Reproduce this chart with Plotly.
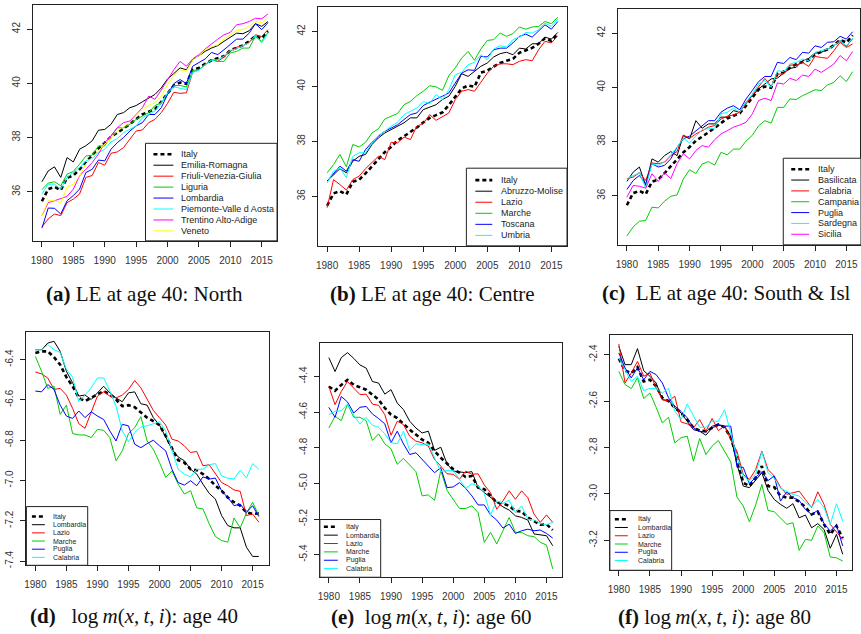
import plotly.graph_objects as go

# ---------------- data ----------------
years = list(range(1980, 2017))
x_tick_vals = [1980, 1985, 1990, 1995, 2000, 2005, 2010, 2015]
x_tick_text = ["1980", "1985", "1990", "1995", "2000", "2005", "2010", "2015"]

le_tick_vals = [36, 38, 40, 42]
le_tick_text = ["36", "38", "40", "42"]
m40_tick_vals = [-7.4, -7.2, -7.0, -6.8, -6.6, -6.4]
m40_tick_text = ["-7.4", "-7.2", "-7.0", "-6.8", "-6.6", "-6.4"]
m60_tick_vals = [-5.4, -5.2, -5.0, -4.8, -4.6, -4.4]
m60_tick_text = ["-5.4", "-5.2", "-5.0", "-4.8", "-4.6", "-4.4"]
m80_tick_vals = [-3.2, -3.0, -2.8, -2.6, -2.4]
m80_tick_text = ["-3.2", "-3.0", "-2.8", "-2.6", "-2.4"]

# Life expectancy at age 40
le40_italy = [35.65, 36.10, 36.18, 36.06, 36.52, 36.60, 36.83, 37.08, 37.32, 37.60, 37.80, 38.03, 38.18, 38.33, 38.50, 38.68, 38.85, 38.95, 39.05, 39.32, 39.60, 39.92, 40.03, 39.98, 40.50, 40.57, 40.72, 40.85, 40.93, 41.00, 41.22, 41.32, 41.40, 41.55, 41.75, 41.65, 41.92]
# North
le40_emilia_romagna = [36.37, 36.77, 36.92, 36.53, 37.26, 37.10, 37.57, 37.70, 37.88, 38.27, 38.30, 38.49, 38.85, 38.92, 39.10, 39.18, 39.32, 39.47, 39.59, 39.83, 40.16, 40.36, 40.57, 40.50, 40.87, 41.02, 41.18, 41.30, 41.39, 41.55, 41.71, 41.85, 41.83, 41.94, 42.20, 42.10, 42.28]
le40_friuli = [34.70, 35.00, 35.18, 35.12, 35.60, 35.73, 35.92, 36.53, 36.60, 37.08, 36.98, 37.42, 37.47, 37.63, 37.94, 38.24, 38.28, 38.55, 38.67, 38.92, 39.26, 39.67, 39.63, 39.65, 40.41, 40.50, 40.69, 40.87, 40.81, 40.97, 41.18, 41.33, 41.39, 41.51, 41.79, 41.73, 41.98]
le40_liguria = [36.08, 36.32, 36.37, 36.22, 36.65, 36.75, 37.02, 37.32, 37.35, 37.69, 37.69, 38.06, 38.36, 38.36, 38.49, 38.67, 38.79, 38.92, 39.18, 39.28, 39.59, 39.92, 39.92, 39.87, 40.48, 40.50, 40.69, 40.87, 40.81, 40.81, 41.12, 41.18, 41.30, 41.30, 41.73, 41.55, 41.88]
le40_lombardia = [34.66, 35.40, 35.39, 35.18, 35.67, 35.86, 36.10, 36.71, 36.83, 37.17, 37.14, 37.57, 37.81, 38.00, 38.24, 38.43, 38.55, 38.85, 38.85, 39.10, 39.59, 39.99, 40.14, 39.99, 40.63, 40.75, 40.90, 41.14, 41.06, 41.24, 41.42, 41.63, 41.63, 41.85, 42.20, 41.98, 42.24]
le40_piemonte = [35.92, 36.28, 36.28, 36.10, 36.53, 36.71, 36.90, 37.14, 37.23, 37.45, 37.57, 37.84, 37.96, 38.18, 38.30, 38.43, 38.73, 38.85, 38.98, 39.28, 39.65, 39.87, 39.83, 39.77, 40.41, 40.48, 40.69, 40.85, 40.87, 41.00, 41.22, 41.27, 41.39, 41.49, 41.76, 41.49, 41.85]
le40_trentino = [35.12, 35.60, 35.67, 35.76, 35.83, 36.10, 36.59, 36.83, 37.08, 37.39, 37.81, 38.06, 38.36, 38.55, 38.61, 38.85, 39.10, 39.53, 39.41, 39.75, 40.14, 40.50, 40.81, 40.63, 40.90, 41.06, 41.27, 41.46, 41.63, 41.79, 41.88, 42.16, 42.20, 42.28, 42.40, 42.38, 42.56]
le40_veneto = [35.12, 35.67, 35.67, 35.59, 36.16, 36.28, 36.59, 37.02, 37.26, 37.51, 37.75, 38.03, 38.24, 38.40, 38.55, 38.82, 39.04, 39.18, 39.28, 39.53, 39.96, 40.29, 40.50, 40.45, 40.85, 41.02, 41.24, 41.36, 41.42, 41.63, 41.79, 41.95, 41.98, 42.10, 42.28, 42.24, 42.40]
# Centre
le40_abruzzo_molise = [36.55, 36.79, 37.00, 36.85, 37.27, 37.45, 37.52, 37.88, 38.12, 38.30, 38.42, 38.55, 38.67, 38.85, 38.85, 39.15, 39.25, 39.33, 39.52, 39.64, 40.00, 40.46, 40.36, 40.55, 40.73, 40.85, 41.07, 41.19, 41.24, 41.15, 41.39, 41.36, 41.55, 41.55, 41.79, 41.72, 41.96]
le40_lazio = [35.58, 36.60, 36.42, 36.22, 36.60, 36.73, 37.00, 37.24, 37.45, 37.33, 37.96, 37.94, 38.15, 38.06, 38.55, 38.64, 38.97, 38.76, 38.88, 39.03, 39.52, 39.82, 39.88, 39.82, 40.15, 40.48, 40.73, 40.82, 40.82, 40.79, 40.91, 40.97, 40.93, 41.33, 41.64, 41.58, 41.84]
le40_marche = [36.85, 37.15, 37.52, 37.07, 37.88, 37.79, 37.96, 38.30, 38.45, 38.81, 38.91, 39.01, 39.33, 39.45, 39.66, 39.82, 40.02, 39.98, 39.85, 40.39, 40.67, 41.03, 41.27, 40.95, 41.36, 41.67, 41.70, 41.94, 41.82, 41.92, 42.16, 42.08, 42.16, 42.18, 42.36, 42.28, 42.52]
le40_toscana = [36.55, 36.82, 37.09, 36.91, 37.33, 37.27, 37.70, 37.96, 38.18, 38.36, 38.48, 38.60, 38.79, 38.97, 39.03, 39.30, 39.42, 39.52, 39.64, 39.76, 40.12, 40.48, 40.60, 40.58, 41.09, 41.07, 41.33, 41.39, 41.39, 41.58, 41.82, 41.90, 41.79, 42.00, 42.24, 42.08, 42.36]
le40_umbria = [36.48, 36.91, 37.03, 36.67, 37.45, 37.58, 37.58, 37.94, 38.21, 38.36, 38.55, 38.69, 38.97, 39.09, 39.21, 39.45, 39.37, 39.70, 39.52, 39.88, 40.42, 40.51, 40.79, 40.87, 41.15, 40.97, 41.36, 41.48, 41.43, 41.70, 41.79, 41.96, 41.94, 42.06, 42.30, 42.18, 42.45]
# South & Islands
le40_basilicata = [36.53, 36.87, 37.06, 36.38, 37.36, 37.24, 37.48, 37.63, 37.48, 38.22, 38.10, 38.77, 38.49, 38.65, 38.65, 38.90, 38.90, 39.14, 39.08, 39.45, 39.69, 39.94, 40.12, 40.31, 40.34, 40.53, 40.70, 40.74, 40.98, 41.07, 41.26, 41.29, 41.41, 41.53, 41.72, 41.51, 41.80]
le40_calabria = [36.63, 36.69, 36.85, 36.56, 37.21, 37.18, 37.24, 37.48, 37.63, 38.24, 38.12, 38.28, 38.40, 38.53, 38.59, 38.83, 38.93, 38.98, 39.08, 39.39, 39.69, 40.00, 40.33, 40.04, 40.49, 40.49, 40.82, 40.82, 40.92, 40.77, 41.14, 41.10, 41.07, 41.35, 41.66, 41.47, 41.60]
le40_campania = [34.52, 34.85, 35.06, 35.09, 35.58, 35.55, 35.80, 35.98, 36.03, 36.62, 36.96, 36.82, 37.17, 37.26, 37.13, 37.60, 37.51, 37.72, 37.72, 38.02, 38.23, 38.58, 38.77, 38.68, 39.26, 39.26, 39.57, 39.55, 39.69, 39.79, 39.91, 39.88, 40.09, 40.18, 40.43, 40.21, 40.58]
le40_puglia = [36.23, 36.56, 36.75, 36.44, 37.18, 37.06, 37.12, 37.36, 37.79, 38.10, 38.20, 38.40, 38.59, 38.77, 38.77, 39.08, 39.23, 39.32, 39.17, 39.57, 39.88, 40.21, 40.40, 40.40, 40.92, 40.88, 41.10, 41.02, 41.29, 41.26, 41.53, 41.47, 41.66, 41.68, 41.88, 41.78, 42.05]
le40_sardegna = [36.63, 36.75, 36.85, 36.28, 37.18, 37.12, 37.26, 37.51, 37.79, 38.12, 37.95, 38.20, 38.44, 38.47, 38.49, 39.02, 39.08, 39.23, 39.08, 39.45, 39.75, 40.12, 40.25, 40.00, 40.61, 40.58, 40.86, 40.92, 41.04, 40.98, 41.29, 41.35, 41.41, 41.53, 41.72, 41.53, 41.80]
le40_sicilia = [35.95, 36.38, 36.35, 36.28, 36.81, 36.53, 36.85, 36.63, 37.18, 37.55, 37.36, 37.67, 37.85, 37.79, 38.07, 38.28, 38.40, 38.53, 38.61, 38.71, 39.02, 39.51, 39.60, 39.51, 40.16, 40.12, 40.33, 40.25, 40.45, 40.40, 40.67, 40.55, 40.70, 40.86, 41.17, 40.98, 41.32]

# log m(x,t,i), age 40
m40_italy = [-6.367, -6.359, -6.359, -6.388, -6.425, -6.487, -6.532, -6.590, -6.606, -6.590, -6.576, -6.556, -6.573, -6.598, -6.631, -6.626, -6.636, -6.664, -6.688, -6.705, -6.725, -6.779, -6.837, -6.899, -6.911, -6.944, -6.949, -6.968, -6.993, -7.026, -7.051, -7.084, -7.108, -7.125, -7.158, -7.166, -7.163]
m40_lombardia = [-6.351, -6.351, -6.318, -6.309, -6.359, -6.458, -6.515, -6.581, -6.576, -6.598, -6.565, -6.532, -6.565, -6.590, -6.609, -6.565, -6.560, -6.619, -6.626, -6.688, -6.725, -6.787, -6.845, -6.883, -6.902, -6.944, -6.968, -7.018, -7.064, -7.092, -7.174, -7.224, -7.235, -7.235, -7.331, -7.377, -7.377]
m40_lazio = [-6.461, -6.471, -6.491, -6.548, -6.543, -6.576, -6.642, -6.718, -6.741, -6.659, -6.581, -6.560, -6.581, -6.590, -6.576, -6.548, -6.504, -6.540, -6.598, -6.652, -6.688, -6.725, -6.795, -6.804, -6.828, -6.861, -6.856, -6.927, -6.922, -6.965, -7.010, -7.026, -7.047, -7.054, -7.174, -7.166, -7.207]
m40_marche = [-6.384, -6.458, -6.543, -6.532, -6.672, -6.626, -6.767, -6.774, -6.774, -6.787, -6.746, -6.751, -6.787, -6.902, -6.853, -6.767, -6.738, -6.683, -6.804, -6.845, -6.911, -6.985, -6.952, -7.018, -7.067, -7.051, -7.136, -7.141, -7.215, -7.278, -7.298, -7.306, -7.186, -7.235, -7.163, -7.108, -7.174]
m40_puglia = [-6.556, -6.560, -6.524, -6.548, -6.626, -6.680, -6.692, -6.655, -6.688, -6.659, -6.680, -6.697, -6.754, -6.804, -6.721, -6.729, -6.820, -6.837, -6.817, -6.800, -6.828, -6.853, -6.944, -7.010, -7.023, -7.001, -7.026, -6.982, -6.993, -6.988, -7.051, -7.084, -7.125, -7.117, -7.158, -7.125, -7.179]
m40_calabria = [-6.351, -6.351, -6.326, -6.351, -6.364, -6.449, -6.487, -6.609, -6.576, -6.540, -6.491, -6.491, -6.556, -6.631, -6.754, -6.807, -6.762, -6.734, -6.729, -6.718, -6.708, -6.754, -6.845, -6.944, -6.968, -6.982, -6.944, -6.944, -6.922, -6.916, -6.977, -6.988, -6.993, -6.949, -6.988, -6.916, -6.944]

# log m(x,t,i), age 60
m60_italy = [-4.456, -4.480, -4.447, -4.419, -4.447, -4.461, -4.474, -4.502, -4.530, -4.577, -4.614, -4.633, -4.666, -4.698, -4.726, -4.754, -4.772, -4.819, -4.856, -4.890, -4.921, -4.940, -4.964, -4.959, -5.024, -5.033, -5.070, -5.108, -5.113, -5.126, -5.154, -5.158, -5.191, -5.210, -5.232, -5.229, -5.262]
m60_lombardia = [-4.294, -4.372, -4.294, -4.266, -4.298, -4.335, -4.353, -4.428, -4.437, -4.499, -4.474, -4.549, -4.586, -4.651, -4.689, -4.717, -4.707, -4.815, -4.797, -4.890, -4.931, -4.934, -4.940, -4.934, -5.024, -5.052, -5.080, -5.108, -5.132, -5.150, -5.182, -5.191, -5.206, -5.284, -5.288, -5.294, -5.350]
m60_lazio = [-4.456, -4.558, -4.484, -4.428, -4.465, -4.502, -4.499, -4.555, -4.562, -4.614, -4.730, -4.651, -4.670, -4.735, -4.763, -4.772, -4.791, -4.866, -4.903, -4.946, -4.949, -4.977, -4.931, -4.949, -4.946, -5.009, -5.052, -5.145, -5.098, -5.042, -5.089, -5.042, -5.080, -5.173, -5.219, -5.177, -5.219]
m60_marche = [-4.689, -4.623, -4.648, -4.555, -4.629, -4.629, -4.648, -4.759, -4.722, -4.778, -4.806, -4.893, -4.860, -4.897, -4.934, -5.070, -5.065, -5.095, -4.927, -5.039, -5.089, -5.141, -5.141, -5.126, -5.164, -5.331, -5.275, -5.340, -5.266, -5.191, -5.275, -5.275, -5.294, -5.299, -5.331, -5.346, -5.480]
m60_puglia = [-4.573, -4.629, -4.512, -4.543, -4.605, -4.573, -4.568, -4.610, -4.636, -4.666, -4.772, -4.707, -4.778, -4.838, -4.828, -4.866, -4.908, -4.940, -4.912, -5.024, -5.020, -4.996, -5.028, -5.070, -5.121, -5.121, -5.177, -5.206, -5.251, -5.229, -5.281, -5.266, -5.257, -5.266, -5.262, -5.281, -5.307]
m60_calabria = [-4.614, -4.596, -4.592, -4.555, -4.618, -4.666, -4.629, -4.674, -4.685, -4.722, -4.772, -4.778, -4.707, -4.815, -4.778, -4.782, -4.778, -4.853, -4.934, -4.927, -4.927, -4.977, -5.028, -5.002, -5.015, -5.057, -5.177, -5.098, -5.113, -5.095, -5.164, -5.126, -5.201, -5.206, -5.225, -5.232, -5.219]

# log m(x,t,i), age 80
m80_italy = [-2.417, -2.469, -2.479, -2.454, -2.515, -2.508, -2.536, -2.586, -2.600, -2.629, -2.651, -2.680, -2.715, -2.727, -2.730, -2.715, -2.701, -2.713, -2.758, -2.844, -2.952, -2.966, -2.930, -2.880, -2.966, -2.971, -3.009, -3.016, -3.016, -3.034, -3.057, -3.088, -3.077, -3.131, -3.174, -3.138, -3.191]
m80_lombardia = [-2.364, -2.443, -2.443, -2.374, -2.469, -2.493, -2.522, -2.594, -2.598, -2.629, -2.651, -2.687, -2.723, -2.730, -2.747, -2.715, -2.704, -2.708, -2.751, -2.873, -2.966, -2.973, -2.942, -2.909, -2.985, -3.024, -3.045, -3.062, -3.042, -3.103, -3.091, -3.146, -3.128, -3.153, -3.234, -3.174, -3.260]
m80_lazio = [-2.354, -2.522, -2.479, -2.429, -2.493, -2.479, -2.543, -2.594, -2.600, -2.579, -2.690, -2.698, -2.715, -2.680, -2.730, -2.675, -2.727, -2.708, -2.766, -2.816, -2.916, -2.938, -2.895, -2.816, -2.895, -2.923, -2.971, -3.002, -2.995, -2.988, -3.024, -3.059, -2.991, -3.045, -3.131, -3.163, -3.196]
m80_marche = [-2.472, -2.529, -2.546, -2.500, -2.589, -2.565, -2.627, -2.694, -2.670, -2.780, -2.758, -2.751, -2.859, -2.761, -2.830, -2.794, -2.770, -2.816, -2.862, -3.014, -3.052, -3.120, -3.048, -2.959, -3.071, -3.077, -3.105, -3.131, -3.124, -3.243, -3.196, -3.200, -3.138, -3.167, -3.272, -3.275, -3.289]
m80_puglia = [-2.393, -2.457, -2.500, -2.457, -2.508, -2.472, -2.486, -2.522, -2.586, -2.622, -2.644, -2.672, -2.715, -2.730, -2.733, -2.708, -2.701, -2.708, -2.708, -2.885, -2.885, -2.956, -2.928, -2.905, -2.942, -2.923, -3.031, -2.991, -3.016, -3.028, -3.067, -3.088, -3.071, -3.128, -3.160, -3.134, -3.224]
m80_calabria = [-2.414, -2.465, -2.515, -2.493, -2.555, -2.546, -2.546, -2.565, -2.546, -2.644, -2.680, -2.612, -2.665, -2.713, -2.713, -2.687, -2.687, -2.637, -2.737, -2.844, -2.923, -2.945, -2.916, -2.819, -2.909, -2.933, -2.976, -2.988, -3.002, -3.009, -3.038, -3.057, -3.024, -3.059, -3.131, -3.042, -3.117]

north_names = ["Italy", "Emilia-Romagna", "Friuli-Venezia-Giulia", "Liguria", "Lombardia",
               "Piemonte-Valle d Aosta", "Trentino Alto-Adige", "Veneto"]
centre_names = ["Italy", "Abruzzo-Molise", "Lazio", "Marche", "Toscana", "Umbria"]
south_names = ["Italy", "Basilicata", "Calabria", "Campania", "Puglia", "Sardegna", "Sicilia"]
mort_names = ["Italy", "Lombardia", "Lazio", "Marche", "Puglia", "Calabria"]

THIN = "\u2009"
LOGM = "log" + THIN + "<i>m</i>(<i>x</i>," + THIN + "<i>t</i>," + THIN + "<i>i</i>)"
captions = [
    "<b>(a)</b> LE at age 40: North",
    "<b>(b)</b> LE at age 40: Centre",
    "<b>(c)</b>  LE at age 40: South &amp; Isl",
    "<b>(d)</b>   " + LOGM + ": age 40",
    "<b>(e)</b>  " + LOGM + ": age 60",
    "<b>(f)</b> " + LOGM + ": age 80",
]

# ---------------- styling ----------------
BLACK, RED, GREEN, BLUE = "#000000", "#FF0000", "#00CD00", "#0000FF"
CYAN, MAGENTA, YELLOW = "#00FFFF", "#FF00FF", "#FFFF00"
W, H = 861, 634

north_colors = [BLACK, BLACK, RED, GREEN, BLUE, CYAN, MAGENTA, YELLOW]
centre_colors = [BLACK, BLACK, RED, GREEN, BLUE, CYAN]
south_colors = [BLACK, BLACK, RED, GREEN, BLUE, CYAN, MAGENTA]
mort_colors = [BLACK, BLACK, RED, GREEN, BLUE, CYAN]

panels = [
    dict(series=[le40_italy, le40_emilia_romagna, le40_friuli, le40_liguria, le40_lombardia,
                 le40_piemonte, le40_trentino, le40_veneto],
         names=north_names, colors=north_colors,
         box=(31, 5, 276, 242), xr=[1978.56, 2017.44], yr=[34.19, 42.89],
         yt=(le_tick_vals, le_tick_text), cap=(143, 295),
         leg=dict(box=(144, 144, 276, 242), y0=155, dy=11, sx=(152, 172), tx=178, fs=9)),
    dict(series=[le40_italy, le40_abruzzo_molise, le40_lazio, le40_marche, le40_toscana, le40_umbria],
         names=centre_names, colors=centre_colors,
         box=(317, 7, 567, 247), xr=[1978.56, 2017.44], yr=[34.19, 42.89],
         yt=(le_tick_vals, le_tick_text), cap=(432, 295),
         leg=dict(box=(466, 169, 567, 247), y0=181, dy=11.1, sx=(475, 492), tx=499, fs=9)),
    dict(series=[le40_italy, le40_basilicata, le40_calabria, le40_campania, le40_puglia,
                 le40_sardegna, le40_sicilia],
         names=south_names, colors=south_colors,
         box=(618, 9, 861, 246), xr=[1978.56, 2017.17], yr=[34.19, 42.89],
         yt=(le_tick_vals, le_tick_text), cap=(727, 294),
         leg=dict(box=(784, 159, 862, 246), y0=170, dy=10.9, sx=(792, 810), tx=817, fs=9)),
    dict(series=[m40_italy, m40_lombardia, m40_lazio, m40_marche, m40_puglia, m40_calabria],
         names=mort_names, colors=mort_colors,
         box=(24.5, 334, 267.7, 568), xr=[1978.56, 2017.6], yr=[-7.421, -6.265],
         yt=(m40_tick_vals, m40_tick_text), cap=(132, 619),
         leg=dict(box=(24.5, 509, 86, 568), y0=519, dy=8.2, sx=(30, 43), tx=49, fs=7)),
    dict(series=[m60_italy, m60_lombardia, m60_lazio, m60_marche, m60_puglia, m60_calabria],
         names=mort_names, colors=mort_colors,
         box=(319, 345, 562, 580), xr=[1978.56, 2017.5], yr=[-5.527, -4.214],
         yt=(m60_tick_vals, m60_tick_text), cap=(430, 620),
         leg=dict(box=(319, 522, 380, 580), y0=529.3, dy=8.4, sx=(323, 337), tx=343, fs=7)),
    dict(series=[m80_italy, m80_lombardia, m80_lazio, m80_marche, m80_puglia, m80_calabria],
         names=mort_names, colors=mort_colors,
         box=(610, 337, 853, 573), xr=[1978.56, 2017.5], yr=[-3.329, -2.317],
         yt=(m80_tick_vals, m80_tick_text), cap=(715, 620),
         leg=dict(box=(610, 513, 672, 573), y0=521.7, dy=8.3, sx=(615, 628), tx=636, fs=7)),
]

def fx(px):
    return px / W

def fy(py):
    return 1 - py / H

fig = go.Figure()
shapes = []
annotations = []
layout_axes = {}

for k, p in enumerate(panels, start=1):
    xa = "x" if k == 1 else f"x{k}"
    ya = "y" if k == 1 else f"y{k}"
    for s, (vals, name, col) in enumerate(zip(p["series"], p["names"], p["colors"])):
        if len(vals) != len(years):
            raise ValueError(f"panel {k} series {name} has {len(vals)} values")
        is_italy = (s == 0)
        fig.add_trace(go.Scatter(
            x=years, y=vals, mode="lines", name=name, showlegend=False,
            xaxis=xa, yaxis=ya,
            line=dict(color=col, width=2.6 if is_italy else 1.0,
                      dash="4px,3px" if is_italy else "solid"),
        ))
    x0, y0, x1, y1 = p["box"]
    common = dict(showline=True, mirror=True, linecolor="#222", linewidth=1,
                  ticks="outside", ticklen=5, tickcolor="#222", tickwidth=1,
                  showgrid=False, zeroline=False,
                  tickfont=dict(family="Liberation Sans, Arial, sans-serif", size=10, color="#333"))
    layout_axes["xaxis" if k == 1 else f"xaxis{k}"] = dict(
        domain=[fx(x0), min(fx(x1), 1.0)], range=p["xr"], anchor=ya,
        tickmode="array", tickvals=x_tick_vals, ticktext=x_tick_text,
        ticklabelstandoff=5, **common)
    layout_axes["yaxis" if k == 1 else f"yaxis{k}"] = dict(
        domain=[fy(y1), fy(y0)], range=p["yr"], anchor=xa,
        tickmode="array", tickvals=p["yt"][0], ticktext=p["yt"][1],
        tickangle=-90, ticklabelstandoff=3, **common)

    # caption
    cx, cy = p["cap"]
    annotations.append(dict(
        x=fx(cx), y=fy(cy), xref="paper", yref="paper", xanchor="center", yanchor="middle",
        text=captions[k - 1], showarrow=False,
        font=dict(family="Liberation Serif, Times New Roman, serif", size=21, color="#111")))

    # legend box
    lg = p["leg"]
    bx0, by0, bx1, by1 = lg["box"]
    shapes.append(dict(type="rect", xref="paper", yref="paper",
                       x0=fx(bx0), x1=fx(bx1), y0=fy(by1), y1=fy(by0),
                       line=dict(color="#222", width=1), fillcolor="white", layer="above"))
    for s, (name, col) in enumerate(zip(p["names"], p["colors"])):
        iy = lg["y0"] + s * lg["dy"]
        is_italy = (s == 0)
        shapes.append(dict(type="line", xref="paper", yref="paper",
                           x0=fx(lg["sx"][0]), x1=fx(lg["sx"][1]), y0=fy(iy), y1=fy(iy),
                           line=dict(color=col, width=2.6 if is_italy else 1.0,
                                     dash="4px,3px" if is_italy else "solid"),
                           layer="above"))
        annotations.append(dict(
            x=fx(lg["tx"]), y=fy(iy), xref="paper", yref="paper",
            xanchor="left", yanchor="middle", text=name, showarrow=False,
            font=dict(family="Liberation Sans, Arial, sans-serif", size=lg["fs"], color="#222")))

fig.update_layout(
    width=W, height=H, autosize=False,
    margin=dict(l=0, r=0, t=0, b=0),
    paper_bgcolor="white", plot_bgcolor="white",
    showlegend=False, shapes=shapes, annotations=annotations,
    **layout_axes,
)

fig.write_html("out.html")
